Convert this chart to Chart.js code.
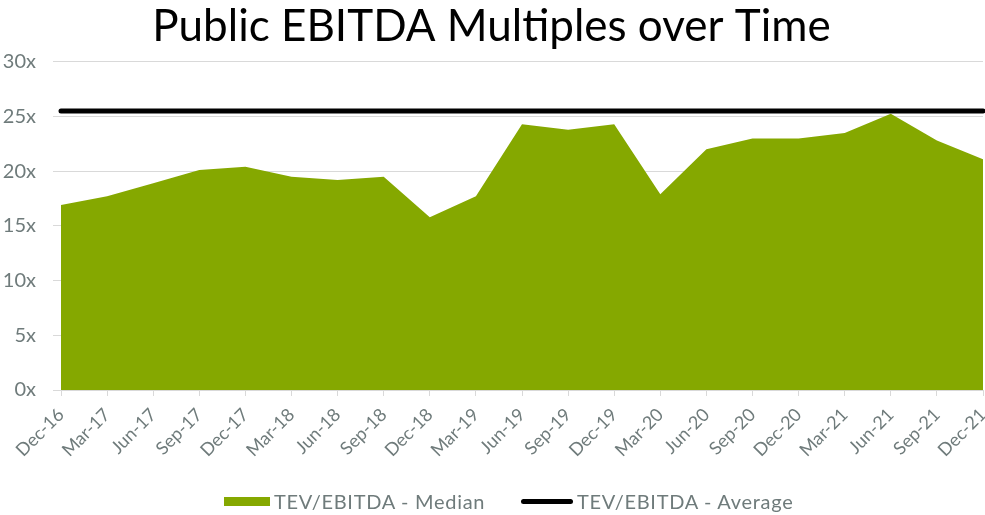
<!DOCTYPE html>
<html>
<head>
<meta charset="utf-8">
<script src="https://cdn.jsdelivr.net/npm/chart.js@4.4.1/dist/chart.umd.min.js"></script>
<style>
  html, body { margin: 0; padding: 0; background: #ffffff; }
  #wrap { position: relative; width: 985px; height: 515px; }
  #legend { position: absolute; left: 0; top: 488px; width: 985px; height: 26px; font-family: Lato, "Open Sans", sans-serif; font-size: 20px; letter-spacing: 0.7px; color: #6f7b7b; }
  .item { position: absolute; top: 0; height: 26px; line-height: 26px; white-space: nowrap; }
  .swatch { position: absolute; }
</style>
</head>
<body>
<div id="wrap">
  <canvas id="c" width="985" height="515"></canvas>
  <div id="legend">
    <div class="item" style="left:224px;"><span class="swatch" style="left:0;top:9px;width:46px;height:9px;background:#85a800;"></span><span style="position:absolute;left:50px;">TEV/EBITDA - Median</span></div>
    <div class="item" style="left:521px;"><span class="swatch" style="left:0;top:11px;width:52px;height:5px;border-radius:3px;background:#000;"></span><span style="position:absolute;left:56px;">TEV/EBITDA - Average</span></div>
  </div>
</div>
<script>
const categories = ["Dec-16","Mar-17","Jun-17","Sep-17","Dec-17","Mar-18","Jun-18","Sep-18","Dec-18","Mar-19","Jun-19","Sep-19","Dec-19","Mar-20","Jun-20","Sep-20","Dec-20","Mar-21","Jun-21","Sep-21","Dec-21"];
const medianValues = [16.9, 17.7, 18.9, 20.1, 20.4, 19.5, 19.2, 19.5, 15.8, 17.7, 24.3, 23.8, 24.3, 17.9, 22.0, 23.0, 23.0, 23.5, 25.25, 22.8, 21.1];
const averageValues = [25.5, 25.5, 25.5, 25.5, 25.5, 25.5, 25.5, 25.5, 25.5, 25.5, 25.5, 25.5, 25.5, 25.5, 25.5, 25.5, 25.5, 25.5, 25.5, 25.5, 25.5];
const yTicks = [0, 5, 10, 15, 20, 25, 30];

const textColor = '#6f7b7b';
const gridColor = '#d9d9d9';

new Chart(document.getElementById('c'), {
  type: 'line',
  data: {
    labels: categories,
    datasets: [
      {
        label: 'TEV/EBITDA - Average',
        data: averageValues,
        borderColor: '#000000',
        backgroundColor: '#000000',
        borderWidth: 5,
        borderCapStyle: 'round',
        pointRadius: 0,
        fill: false,
        order: 0,
        clip: false
      },
      {
        label: 'TEV/EBITDA - Median',
        data: medianValues,
        borderColor: '#85a800',
        backgroundColor: '#85a800',
        borderWidth: 0,
        pointRadius: 0,
        fill: 'origin',
        tension: 0,
        order: 1
      }
    ]
  },
  options: {
    responsive: false,
    animation: false,
    events: [],
    layout: { padding: { left: 0, right: 2, top: 0, bottom: 0 } },
    plugins: {
      legend: { display: false },
      tooltip: { enabled: false },
      title: {
        display: true,
        text: 'Public EBITDA Multiples over Time',
        color: '#000000',
        font: { family: 'Lato, "Open Sans", sans-serif', size: 44, weight: 'normal' },
        padding: { top: 0, bottom: 9 }
      }
    },
    scales: {
      x: {
        type: 'category',
        offset: false,
        afterFit: (scale) => { scale.paddingLeft = 0; scale.paddingRight = 0; scale.height = 125; },
        grid: { display: true, drawOnChartArea: false, drawTicks: true, tickLength: 6, color: gridColor },
        border: { display: true, color: gridColor, width: 1 },
        ticks: {
          color: textColor,
          font: { family: 'Lato, "Open Sans", sans-serif', size: 18 },
          minRotation: 45,
          maxRotation: 45,
          autoSkip: false,
          padding: 8
        }
      },
      y: {
        min: 0,
        max: 30,
        afterBuildTicks: (scale) => { scale.ticks = yTicks.map(v => ({ value: v })); },
        afterFit: (scale) => { scale.width = 61; scale.paddingTop = 0; scale.paddingBottom = 0; },
        grid: { color: gridColor, lineWidth: 1, drawTicks: true, tickLength: 8 },
        border: { display: false },
        ticks: {
          color: textColor,
          font: { family: 'Lato, "Open Sans", sans-serif', size: 20 },
          padding: 17,
          callback: (v) => v + 'x'
        }
      }
    }
  }
});
</script>
</body>
</html>
